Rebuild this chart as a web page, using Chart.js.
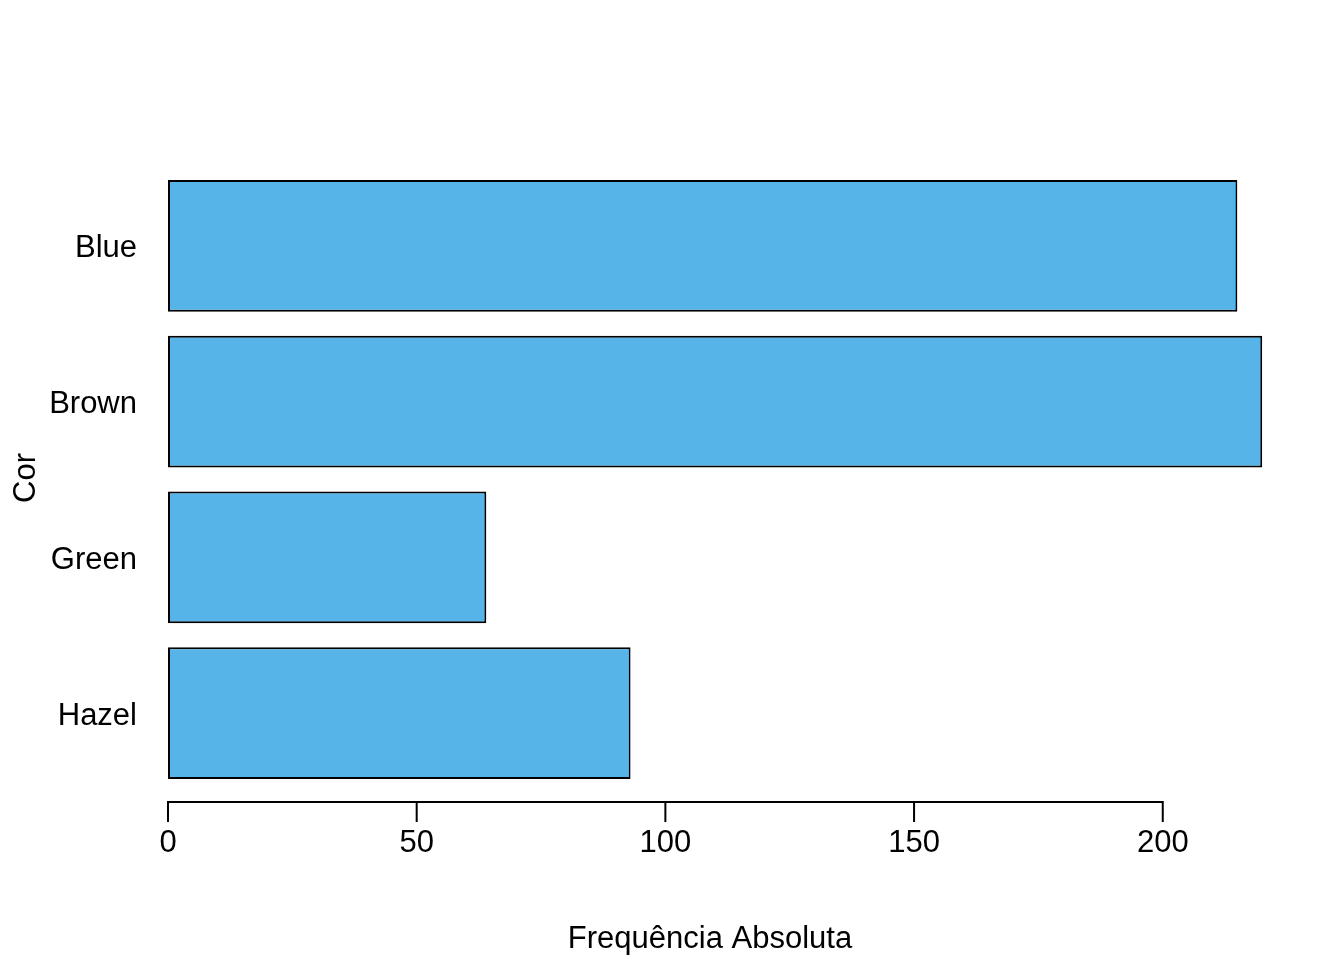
<!DOCTYPE html>
<html>
<head>
<meta charset="utf-8">
<script src="https://cdn.jsdelivr.net/npm/chart.js@4/dist/chart.umd.min.js"></script>
<style>
html,body{margin:0;padding:0;background:#fff;}
#wrap{width:1344px;height:960px;}
</style>
</head>
<body>
<div id="wrap"><canvas id="c" width="1344" height="960"></canvas></div>
<script>
const categories = ["Blue", "Brown", "Green", "Hazel"];
const frequencies = [215, 220, 64, 93];
const xTicks = [0, 50, 100, 150, 200];
const xTitle = "Frequência Absoluta";
const yTitle = "Cor";

const FONT = "'Liberation Sans', Arial, sans-serif";

const rAxisPlugin = {
  id: 'rAxis',
  afterDraw(chart) {
    const ctx = chart.ctx;
    const xs = chart.scales.x;
    const ay = 802;
    ctx.save();
    ctx.strokeStyle = '#000';
    ctx.lineWidth = 2;
    ctx.lineCap = 'butt';
    const x0 = xs.getPixelForValue(xTicks[0]);
    const x1 = xs.getPixelForValue(xTicks[xTicks.length - 1]);
    ctx.beginPath();
    ctx.moveTo(x0 - 1, ay);
    ctx.lineTo(x1 + 1, ay);
    xTicks.forEach(v => {
      const px = xs.getPixelForValue(v);
      ctx.moveTo(px, ay);
      ctx.lineTo(px, ay + 20);
    });
    ctx.stroke();
    ctx.fillStyle = '#000';
    ctx.font = '31px ' + FONT;
    ctx.textAlign = 'center';
    ctx.textBaseline = 'alphabetic';
    ctx.fillText(xTitle, 710, 948);
    ctx.translate(35, 478);
    ctx.rotate(-Math.PI / 2);
    ctx.fillText(yTitle, 0, 0);
    ctx.restore();
  }
};

new Chart(document.getElementById('c'), {
  type: 'bar',
  data: {
    labels: categories,
    datasets: [{
      data: frequencies,
      backgroundColor: '#56B4E9',
      borderColor: '#000000',
      borderWidth: 2,
      borderSkipped: false,
      categoryPercentage: 1.0,
      barPercentage: 0.846
    }]
  },
  options: {
    indexAxis: 'y',
    responsive: false,
    animation: false,
    devicePixelRatio: 1,
    layout: { padding: { left: 0, top: 168, right: 38, bottom: 0 } },
    plugins: { legend: { display: false }, tooltip: { enabled: false } },
    scales: {
      x: {
        type: 'linear',
        min: 0,
        max: 228.8,
        grid: { display: false, drawTicks: false },
        border: { display: false },
        afterBuildTicks(scale) { scale.ticks = xTicks.map(v => ({ value: v })); },
        afterFit(scale) { scale.height = 169; },
        ticks: {
          color: '#000',
          font: { family: FONT, size: 31 },
          padding: 34,
          maxRotation: 0,
          autoSkip: false
        }
      },
      y: {
        grid: { display: false, drawTicks: false },
        border: { display: false },
        afterFit(scale) { scale.width = 168; },
        ticks: {
          color: '#000',
          font: { family: FONT, size: 31 },
          padding: 31,
          labelOffset: 3
        }
      }
    }
  },
  plugins: [rAxisPlugin]
});
</script>
</body>
</html>
